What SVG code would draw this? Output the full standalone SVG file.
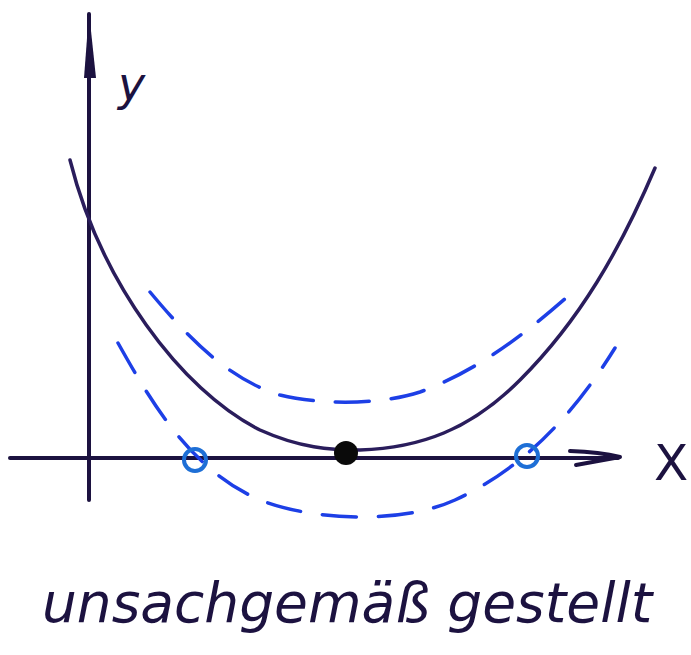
<svg xmlns="http://www.w3.org/2000/svg" width="691" height="655" viewBox="0 0 691 655">
<style>
.ink{fill:none;stroke:#1c1240;stroke-width:4;stroke-linecap:round;stroke-linejoin:round}
.curve{fill:none;stroke:#2a1d5c;stroke-width:3.5;stroke-linecap:round}
.dash{fill:none;stroke:#1d3fe6;stroke-width:3.5;stroke-dasharray:34 22;stroke-linecap:round}
.hand{font-family:"DejaVu Sans","Liberation Sans",sans-serif;fill:#1c1240}
</style>
<rect width="691" height="655" fill="#ffffff"/>
<g id="axes">
  <path class="ink" d="M89,500 L89,14"/>
  <path d="M89,12 L84,78 L96,78 Z" fill="#1c1240"/>
  <path class="ink" d="M10,458 L618,458"/>
  <path class="ink" d="M570,451 Q600,452 620,457 L576,465"/>
</g>
<g id="labels">
  <text class="hand" x="118" y="100" font-size="46" font-style="italic">y</text>
  <text class="hand" x="654" y="480" font-size="50">X</text>
  <text class="hand" x="42" y="622" font-size="55" font-style="italic">unsachgemäß gestellt</text>
</g>
<g id="connectors">
  <path id="solid-curve" class="curve" d="M70,160 C100,280 180,390 260,430 C300,448 330,450 360,450 C420,448 470,430 520,380 C580,320 620,250 655,168"/>
  <path id="upper-dashed" class="dash" d="M150,292 C190,340 230,380 280,395 C320,405 380,405 420,392 C480,370 530,330 575,290"/>
  <path id="lower-dashed" class="dash" d="M118,343 C150,400 190,470 260,500 C310,520 400,525 455,500 C520,470 570,420 615,348"/>
</g>
<g id="root-left"><circle cx="195" cy="460" r="11" fill="none" stroke="#1e6fd6" stroke-width="4"/></g>
<g id="root-right"><circle cx="527" cy="456" r="11" fill="none" stroke="#1e6fd6" stroke-width="4"/></g>
<g id="minimum"><circle cx="346" cy="453" r="12" fill="#0a0a0a"/></g>
</svg>
